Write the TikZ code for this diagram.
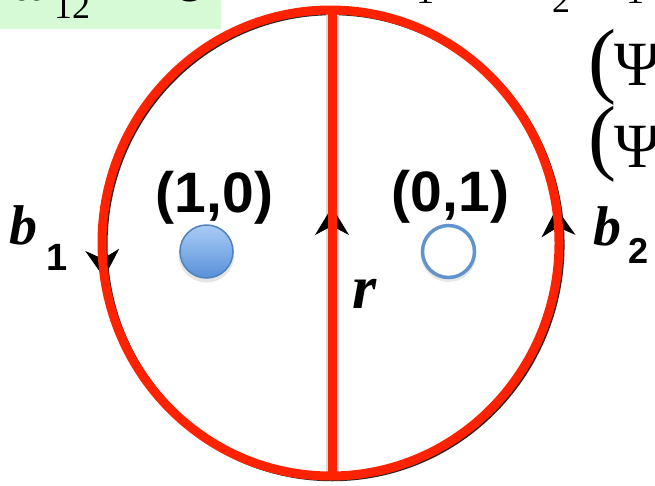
\documentclass[tikz,border=0pt]{standalone}
\usepackage{fontspec}
\setmainfont{Liberation Serif}
\newfontfamily\arialf{Liberation Sans}
\usetikzlibrary{arrows.meta,calc}
\definecolor{loopred}{RGB}{255,34,0}
\definecolor{boxgreen}{RGB}{214,250,214}
\definecolor{dottop}{RGB}{170,204,247}
\definecolor{dotbot}{RGB}{88,145,216}
\definecolor{dotedge}{RGB}{79,129,189}
\definecolor{ringblue}{RGB}{98,148,204}
\begin{document}
\begin{tikzpicture}[x=1pt,y=-1pt,
  loopline/.style={draw=loopred,line width=9pt},
  loopshadow/.style={draw=black!85,line width=7.5pt},
  tipline/.style={draw=black,line width=0.8pt,-{Stealth[length=28pt,width=34pt,inset=9pt]}},
  txt/.style={inner sep=0pt,anchor=base west},
  txtc/.style={inner sep=0pt,anchor=base},
  ]
\useasboundingbox (0,0) rectangle (655,485);
\clip (0,0) rectangle (655,485);
% green box (cut off at top)
\fill[boxgreen] (0,0) rectangle (221,29);
\node[txtc,font=\fontsize{58}{58}\selectfont] (om) at (30,0.5) {ω};
\node[txt,font=\fontsize{36}{36}\selectfont] (omsub) at (54,18) {12};
\node[txtc,font=\fontsize{58}{58}\selectfont] (omc) at (187,1) {c};
% cut-off text at top right
\node[txtc,font=\fontsize{36}{36}\selectfont] (tA) at (425,3) {1};
\node[txtc,font=\fontsize{36}{36}\selectfont] (tB) at (561,12) {2};
\node[txtc,font=\fontsize{36}{36}\selectfont] (tC) at (635,3) {1};
% (Psi rows at right
\node[txt,font=\fontsize{84}{84}\selectfont] (p1) at (588,87) {(};
\node[txt,font=\fontsize{63}{63}\selectfont] (psi1) at (614,85) {Ψ};
\node[txt,font=\fontsize{84}{84}\selectfont] (p2) at (588,164) {(};
\node[txt,font=\fontsize{63}{63}\selectfont] (psi2) at (614,167) {Ψ};
% shadows
\draw[loopshadow] (332.3,244.5) ellipse [x radius=228.5pt, y radius=233pt];
\draw[gray!30,line width=13pt] (332,10) -- (332,477);
% arrow heads (drawn beneath red lines)
\coordinate (la) at (101.5,238.9);
\coordinate (lb) at (104.1,277.8);
\coordinate (ma) at (332,245);
\coordinate (mb) at (332,207);
\coordinate (ra) at (559,243);
\coordinate (rb) at (556.4,208.2);
\draw[tipline] (la) -- (lb);
\draw[tipline] (ma) -- (mb);
\draw[tipline] (ra) -- (rb);
% loop and cut
\coordinate (ctr) at (330.5,243);
\draw[loopline] (ctr) ellipse [x radius=228.5pt, y radius=233pt];
\coordinate (top) at (332,10);
\coordinate (bot) at (332,477);
\draw[loopline] (top) -- (bot);
% dots
\fill[gray!40,opacity=0.5] (206.5,254.5) circle [radius=28pt];
\shade[top color=dottop,bottom color=dotbot,draw=dotedge,line width=1.5pt] (206.5,251.5) circle [radius=26.5pt];
\node[inner sep=0pt,minimum size=53pt] (full) at (206.5,251.5) {};
\draw[gray!30,opacity=0.6,line width=3pt] (448.5,254) circle [radius=26.5pt];
\draw[ringblue,line width=3.5pt,fill=white] (448.5,251.5) circle [radius=26pt];
\node[inner sep=0pt,minimum size=52pt] (empty) at (448.5,251.5) {};
% labels
\node[txtc,font=\arialf\bfseries\fontsize{57}{57}\selectfont] (l10) at (214.5,212) {(1,0)};
\node[txtc,font=\arialf\bfseries\fontsize{57}{57}\selectfont] (l01) at (450.5,211) {(0,1)};
\node[txt,font=\bfseries\itshape\fontsize{56}{56}\selectfont] (b1) at (9,244) {b};
\node[txt,font=\arialf\bfseries\fontsize{38}{38}\selectfont] (b1s) at (46,270) {1};
\node[txt,font=\bfseries\itshape\fontsize{56}{56}\selectfont] (b2) at (593,245) {b};
\node[txt,font=\arialf\bfseries\fontsize{36}{36}\selectfont] (b2s) at (628,263) {2};
\node[txt,font=\bfseries\itshape\fontsize{62}{62}\selectfont] (r) at (352,308) {r};
\end{tikzpicture}
\end{document}
